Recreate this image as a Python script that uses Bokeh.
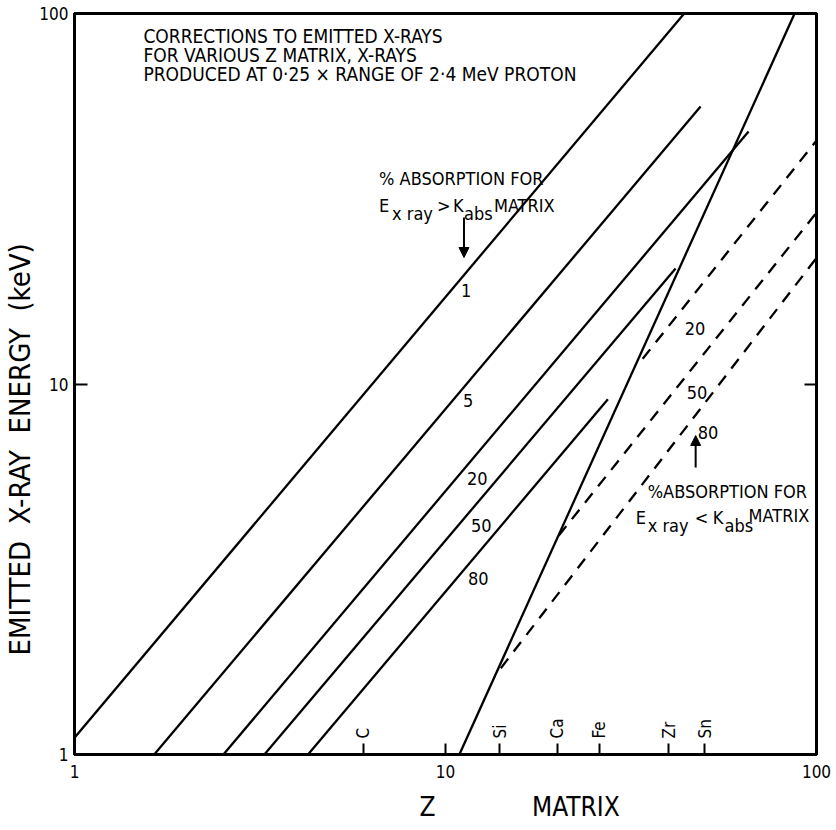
import math
from bokeh.plotting import figure
from bokeh.models import Label, FixedTicker, LogAxis, Arrow, NormalHead, Range1d, Title
from bokeh.core.properties import value
from bokeh.embed import file_html
from bokeh.resources import INLINE

FONT = "DejaVu Sans Condensed, Liberation Sans"

# Solid curves: % absorption for E_xray > K_abs of the matrix
solid_labels = ["1", "5", "20", "50", "80"]
solid_z = [[1.0, 44.0], [1.64, 48.7], [2.52, 65.6], [3.25, 41.7], [4.26, 27.4]]
solid_e = [[1.11, 100.0], [1.0, 56.1], [1.0, 48.0], [1.0, 20.5], [1.0, 9.1]]

# K absorption edge of the matrix
edge_z = [10.9, 87.3]
edge_e = [1.0, 100.0]

# Dashed curves: % absorption for E_xray < K_abs
dashed_labels = ["20", "50", "80"]
dashed_z = [[34.0, 100.0], [20.2, 100.0], [14.1, 100.0]]
dashed_e = [[11.7, 45.4], [3.9, 29.0], [1.71, 21.9]]

# Matrix elements marked on the Z axis
elements = ["C", "Si", "Ca", "Fe", "Zr", "Sn"]
element_z = [6, 14, 20, 26, 40, 50]

axis_ticks = [1, 10, 100]

# frame edges on the canvas, used to place annotation text
X0, X1, Y0, Y1 = 73, 816, 754, 13


def zx(px):
    return 10 ** ((px - X0) / (X1 - X0) * 2)


def ey(py):
    return 10 ** ((Y0 - py) / (Y0 - Y1) * 2)


p = figure(width=836, height=830, x_axis_type="log", y_axis_type="log",
           x_range=Range1d(1, 100), y_range=Range1d(1, 100),
           output_backend="svg", toolbar_location=None,
           min_border_left=X0, min_border_right=836 - X1,
           min_border_top=Y1, min_border_bottom=830 - Y0)
p.grid.visible = False
p.outline_line_color = "black"
p.outline_line_width = 3
p.background_fill_color = "white"
p.border_fill_color = "white"

# bottom axis: decade labels plus element ticks
xa = p.xaxis[0]
xa.ticker = FixedTicker(ticks=axis_ticks + element_z)
xa.major_label_overrides = {z: "" for z in element_z}
xa.major_label_overrides.update({1: "1", 10: "10", 100: "100"})
xa.major_tick_in = 11
xa.major_tick_out = 0
xa.major_tick_line_width = 2
xa.minor_tick_line_color = None
xa.axis_line_width = 3
xa.major_label_text_font = FONT
xa.major_label_text_font_size = "17px"
xa.major_label_text_color = "black"
xa.major_label_standoff = 10

ya = p.yaxis[0]
ya.ticker = FixedTicker(ticks=axis_ticks)
ya.major_label_overrides = {1: "1", 10: "10", 100: "100"}
ya.major_tick_in = 13
ya.major_tick_out = 0
ya.major_tick_line_width = 2
ya.minor_tick_line_color = None
ya.axis_line_width = 3
ya.major_label_text_font = FONT
ya.major_label_text_font_size = "17px"
ya.major_label_text_color = "black"
ya.major_label_standoff = 6

ra = LogAxis(ticker=FixedTicker(ticks=[10]), major_label_overrides={10: ""},
             major_tick_in=12, major_tick_out=0, major_tick_line_width=2,
             minor_tick_line_color=None, axis_line_width=3,
             major_label_text_font_size="1px", major_label_standoff=0)
p.add_layout(ra, "right")

# axis titles, set off along their sides
NB = "\u00a0"
p.add_layout(Title(text="EMITTED" + NB * 2 + "X-RAY" + NB * 2 + "ENERGY" + NB * 2 + "(keV)",
                   align="left", offset=99, text_font=FONT, text_font_size="29px",
                   text_font_style="normal", text_color="black", standoff=0), "left")
p.add_layout(Title(text="Z" + NB * 13 + "MATRIX", align="left", offset=345,
                   text_font=FONT, text_font_size="26px", text_font_style="normal",
                   text_color="black", standoff=18), "below")

# curves
p.multi_line(xs=solid_z, ys=solid_e, line_color="black", line_width=2.3)
p.line(edge_z, edge_e, line_color="black", line_width=2.3)
p.multi_line(xs=dashed_z, ys=dashed_e, line_color="black", line_width=2.3,
             line_dash="12 9")

# element names above their ticks
p.text(x=element_z, y=[ey(738)] * len(element_z), text=elements, angle=math.pi / 2,
       text_align="left", text_baseline="middle", text_font=value(FONT),
       text_font_size="17px", text_color="black")


def put(txt, px, py, size="18px", align="left", baseline="alphabetic", angle=0.0):
    p.add_layout(Label(x=zx(px), y=ey(py), text=txt, text_font=FONT,
                       text_font_size=size, text_align=align, text_baseline=baseline,
                       angle=angle, text_color="black"))


# heading
put("CORRECTIONS  TO  EMITTED  X-RAYS", 142, 35, size="19px")
put("FOR  VARIOUS  Z  MATRIX,  X-RAYS", 142, 54, size="19px")
put("PRODUCED  AT  0\u00b725 \u00d7 RANGE  OF  2\u00b74 MeV  PROTON", 142, 73, size="19px")

# labels on the solid curves
for lab, (px, py) in zip(solid_labels, [(460, 290), (462, 400), (466, 478), (470, 525), (467, 578)]):
    put(lab, px, py)

# labels on the dashed curves
for lab, (px, py) in zip(dashed_labels, [(684, 328), (686, 392), (697, 432)]):
    put(lab, px, py)

# note for the solid family
put("% ABSORPTION FOR", 378, 178)
put("E", 378, 205)
put("x ray", 391, 213)
put(">", 436, 205)
put("K", 452, 205)
put("abs", 463, 213)
put("MATRIX", 493, 205)
p.add_layout(Arrow(end=NormalHead(size=10, fill_color="black", line_color="black"),
                   x_start=zx(463), y_start=ey(217), x_end=zx(463), y_end=ey(257),
                   line_width=2, line_color="black"))

# note for the dashed family
put("%ABSORPTION FOR", 647, 491)
put("E", 635, 517)
put("x ray", 647, 525)
put("<", 694, 517)
put("K", 712, 517)
put("abs", 724, 525)
put("MATRIX", 748, 515)
p.add_layout(Arrow(end=NormalHead(size=10, fill_color="black", line_color="black"),
                   x_start=zx(695), y_start=ey(467), x_end=zx(695), y_end=ey(435),
                   line_width=2, line_color="black"))

open("out.html", "w").write(file_html(p, INLINE))
